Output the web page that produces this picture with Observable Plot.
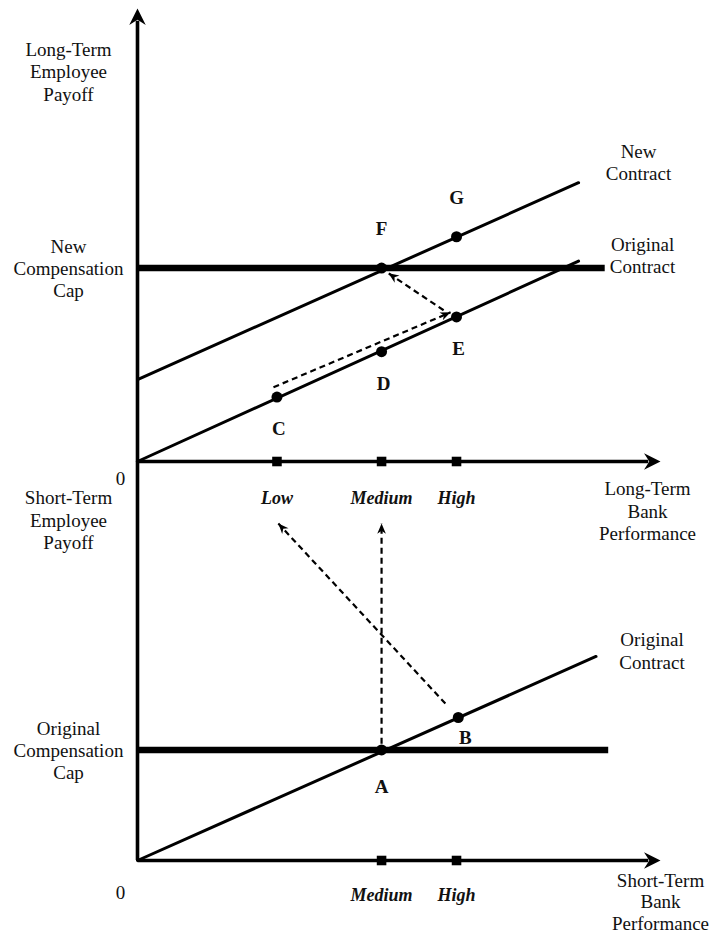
<!DOCTYPE html>
<html>
<head>
<meta charset="utf-8">
<script src="https://cdn.jsdelivr.net/npm/d3@7"></script>
<script src="https://cdn.jsdelivr.net/npm/@observablehq/plot@0.6"></script>
<style>
  html, body { margin: 0; padding: 0; background: #fff; }
  #wrap { position: relative; width: 711px; height: 934px; overflow: hidden; }
  #wrap svg { position: absolute; left: 0; top: 0; }
</style>
</head>
<body>
<div id="wrap"></div>
<script>
// ---------------- data ----------------
// performance levels (x) and their tick labels
const perfTicksLong = [4, 7, 9.15];
const perfLabelsLong = ["Low", "Medium", "High"];
const perfTicksShort = [7, 9.15];
const perfLabelsShort = ["Medium", "High"];

// long-term panel
const origContractLongX = [0, 12.65];
const origContractLongY = [0, 5.75];
const newContractX = [0, 12.65];
const newContractY = [2.35, 8.0];
const newCapLevel = 5.55;
const newCapExtent = [0, 13.4];
const longPointNames = ["C", "D", "E", "F", "G"];
const longPointX = [4, 7, 9.15, 7, 9.15];
const longPointY = [1.85, 3.15, 4.15, 5.55, 6.45];
const longShiftFrom = [[3.9, 2.13], [8.78, 4.34]];
const longShiftTo = [[8.98, 4.28], [7.2, 5.4]];

// short-term panel
const origContractShortX = [0, 13.15];
const origContractShortY = [0, 5.85];
const origCapLevel = 3.17;
const origCapExtent = [0, 13.5];
const shortPointNames = ["A", "B"];
const shortPointX = [7, 9.2];
const shortPointY = [3.17, 4.1];
const shortShiftFrom = [[7, 3.35], [8.83, 4.5]];
const shortShiftTo = [[7, 9.66], [4.04, 9.66]];

// ---------------- layout ----------------
const W = 711, H = 934;
const xDomain = [0, 15];
const longYDomain = [0, 13.0];
const shortYDomain = [0, 11.44];
const mL = 137, mR = 51;
const longMargins = {top: 8, bottom: 473};
const shortMargins = {top: 461, bottom: 74};
const FONT = "'Liberation Serif', 'Times New Roman', Times, serif";
const INK = "#000";
const TXT = "#111";

const kx = (W - mL - mR) / (xDomain[1] - xDomain[0]);
const kyLong = (H - longMargins.top - longMargins.bottom) / (longYDomain[1] - longYDomain[0]);
const kyShort = (H - shortMargins.top - shortMargins.bottom) / (shortYDomain[1] - shortYDomain[0]);

// filled "stealth" arrow heads, tip at origin pointing up
function stealthHead(widthRatio, notch) {
  return {
    draw(ctx, size) {
      const L = Math.sqrt(size);
      const w = L * widthRatio;
      ctx.moveTo(0, 0);
      ctx.lineTo(w, L);
      ctx.lineTo(0, L * notch);
      ctx.lineTo(-w, L);
      ctx.closePath();
    }
  };
}
const axisHead = stealthHead(0.5, 0.68);
const dashHead = stealthHead(0.42, 0.7);
const heading = (x1, y1, x2, y2, ky) => Math.atan2((x2 - x1) * kx, (y2 - y1) * ky) * 180 / Math.PI;

function makeArrows(from, to, ky) {
  return from.map((f, i) => ({x1: f[0], y1: f[1], x2: to[i][0], y2: to[i][1],
    angle: heading(f[0], f[1], to[i][0], to[i][1], ky)}));
}
function pairs(xs, ys) { return xs.map((x, i) => ({x, y: ys[i]})); }

const longPoints = longPointNames.map((name, i) => ({name, x: longPointX[i], y: longPointY[i]}));
const shortPoints = shortPointNames.map((name, i) => ({name, x: shortPointX[i], y: shortPointY[i]}));
const longArrows = makeArrows(longShiftFrom, longShiftTo, kyLong);
const shortArrows = makeArrows(shortShiftFrom, shortShiftTo, kyShort);

// axes with heads
const longAxisHeads = [
  {x: xDomain[1], y: 0, angle: 90},
  {x: 0, y: longYDomain[1], angle: 0}
];
const longAxisLines = [
  {x1: 0, y1: 0, x2: xDomain[1] - 0.35, y2: 0},
  {x1: 0, y1: 0, x2: 0, y2: longYDomain[1] - 0.35}
];
const shortAxisHeads = [{x: xDomain[1], y: 0, angle: 90}];
const shortAxisLines = [{x1: 0, y1: 0, x2: xDomain[1] - 0.35, y2: 0}];

const textBase = {fontFamily: FONT, fill: TXT, fontSize: 19, lineHeight: 1.17};
const dashStyle = {stroke: INK, strokeWidth: 2.2, strokeDasharray: "6,4"};

function axisMarks(lines, heads) {
  return [
    Plot.link(lines, {x1: "x1", y1: "y1", x2: "x2", y2: "y2", stroke: INK, strokeWidth: 3.6}),
    Plot.dot(heads, {x: "x", y: "y", rotate: "angle", symbol: axisHead, r: 9.3, fill: INK, stroke: "none"})
  ];
}

// ---------------- long-term (top) panel ----------------
const topPlot = Plot.plot({
  width: W, height: H,
  marginLeft: mL, marginRight: mR, marginTop: longMargins.top, marginBottom: longMargins.bottom,
  x: {domain: xDomain, axis: null},
  y: {domain: longYDomain, axis: null},
  style: {background: "none", overflow: "visible", fontFamily: FONT},
  marks: [
    ...axisMarks(longAxisLines, longAxisHeads),
    Plot.dot(perfTicksLong, {x: d => d, y: 0, symbol: "square", r: 5.4, fill: INK, stroke: "none"}),
    Plot.axisX({
      ticks: perfTicksLong,
      tickFormat: d => perfLabelsLong[perfTicksLong.indexOf(d)],
      tickSize: 0, tickPadding: 30, anchor: "bottom", label: null,
      fontFamily: FONT, fontSize: 18, fontWeight: "bold", fontStyle: "italic", fill: TXT
    }),
    // new compensation cap
    Plot.link([{x1: newCapExtent[0], x2: newCapExtent[1], y: newCapLevel}],
      {x1: "x1", x2: "x2", y1: "y", y2: "y", stroke: INK, strokeWidth: 6.5}),
    // contracts
    Plot.line(pairs(origContractLongX, origContractLongY), {x: "x", y: "y", stroke: INK, strokeWidth: 3}),
    Plot.line(pairs(newContractX, newContractY), {x: "x", y: "y", stroke: INK, strokeWidth: 3}),
    // dashed shifts
    Plot.link(longArrows, {x1: "x1", y1: "y1", x2: "x2", y2: "y2", ...dashStyle}),
    Plot.dot(longArrows, {x: "x2", y: "y2", rotate: "angle", symbol: dashHead, r: 5.8, fill: INK, stroke: "none"}),
    // points
    Plot.dot(longPoints, {x: "x", y: "y", r: 5.5, fill: INK, stroke: "none"}),
    Plot.text(longPoints.filter(p => p.name === "F" || p.name === "G"),
      {x: "x", y: "y", text: "name", dy: -40, ...textBase, fontWeight: "bold"}),
    Plot.text(longPoints.filter(p => "CDE".includes(p.name)),
      {x: "x", y: "y", text: "name", dy: 31, dx: 2, ...textBase, fontWeight: "bold"}),
    // labels
    Plot.text([{x: 0, y: 11.2}], {x: "x", y: "y", text: () => "Long-Term\nEmployee\nPayoff", dx: -69, ...textBase}),
    Plot.text([{x: 0, y: newCapLevel}], {x: "x", y: "y", text: () => "New\nCompensation\nCap", dx: -69, ...textBase}),
    Plot.text([{x: 0, y: 0}], {x: "x", y: "y", text: () => "0", dx: -17, dy: 16, ...textBase}),
    Plot.text([{x: newContractX[1], y: newContractY[1]}],
      {x: "x", y: "y", text: () => "New\nContract", dx: 60, dy: -21, ...textBase}),
    Plot.text([{x: origContractLongX[1], y: origContractLongY[1]}],
      {x: "x", y: "y", text: () => "Original\nContract", dx: 64, dy: -6, ...textBase}),
    Plot.text([{x: xDomain[1], y: 0}],
      {x: "x", y: "y", text: () => "Long-Term\nBank\nPerformance", dx: -13, dy: 49, ...textBase})
  ]
});

// ---------------- short-term (bottom) panel ----------------
const bottomPlot = Plot.plot({
  width: W, height: H,
  marginLeft: mL, marginRight: mR, marginTop: shortMargins.top, marginBottom: shortMargins.bottom,
  x: {domain: xDomain, axis: null},
  y: {domain: shortYDomain, axis: null},
  style: {background: "none", overflow: "visible", fontFamily: FONT},
  marks: [
    Plot.ruleX([0], {stroke: INK, strokeWidth: 3.6}),
    ...axisMarks(shortAxisLines, shortAxisHeads),
    Plot.dot(perfTicksShort, {x: d => d, y: 0, symbol: "square", r: 5.4, fill: INK, stroke: "none"}),
    Plot.axisX({
      ticks: perfTicksShort,
      tickFormat: d => perfLabelsShort[perfTicksShort.indexOf(d)],
      tickSize: 0, tickPadding: 28, anchor: "bottom", label: null,
      fontFamily: FONT, fontSize: 18, fontWeight: "bold", fontStyle: "italic", fill: TXT
    }),
    Plot.link([{x1: origCapExtent[0], x2: origCapExtent[1], y: origCapLevel}],
      {x1: "x1", x2: "x2", y1: "y", y2: "y", stroke: INK, strokeWidth: 6.5}),
    Plot.line(pairs(origContractShortX, origContractShortY), {x: "x", y: "y", stroke: INK, strokeWidth: 3}),
    Plot.link(shortArrows, {x1: "x1", y1: "y1", x2: "x2", y2: "y2", ...dashStyle}),
    Plot.dot(shortArrows, {x: "x2", y: "y2", rotate: "angle", symbol: dashHead, r: 5.8, fill: INK, stroke: "none"}),
    Plot.dot(shortPoints, {x: "x", y: "y", r: 5.5, fill: INK, stroke: "none"}),
    Plot.text(shortPoints.filter(p => p.name === "A"),
      {x: "x", y: "y", text: "name", dy: 36, ...textBase, fontWeight: "bold"}),
    Plot.text(shortPoints.filter(p => p.name === "B"),
      {x: "x", y: "y", text: "name", dy: 19, dx: 7, ...textBase, fontWeight: "bold"}),
    Plot.text([{x: 0, y: 9.78}], {x: "x", y: "y", text: () => "Short-Term\nEmployee\nPayoff", dx: -69, ...textBase}),
    Plot.text([{x: 0, y: origCapLevel}], {x: "x", y: "y", text: () => "Original\nCompensation\nCap", dx: -69, ...textBase}),
    Plot.text([{x: 0, y: 0}], {x: "x", y: "y", text: () => "0", dx: -17, dy: 31, ...textBase}),
    Plot.text([{x: origContractShortX[1], y: origContractShortY[1]}],
      {x: "x", y: "y", text: () => "Original\nContract", dx: 56, dy: -6, ...textBase}),
    Plot.text([{x: xDomain[1], y: 0}],
      {x: "x", y: "y", text: () => "Short-Term\nBank\nPerformance", dx: 0, dy: 41, ...textBase, lineHeight: 1.14})
  ]
});

const wrap = document.getElementById("wrap");
wrap.appendChild(bottomPlot);
wrap.appendChild(topPlot);
</script>
</body>
</html>
